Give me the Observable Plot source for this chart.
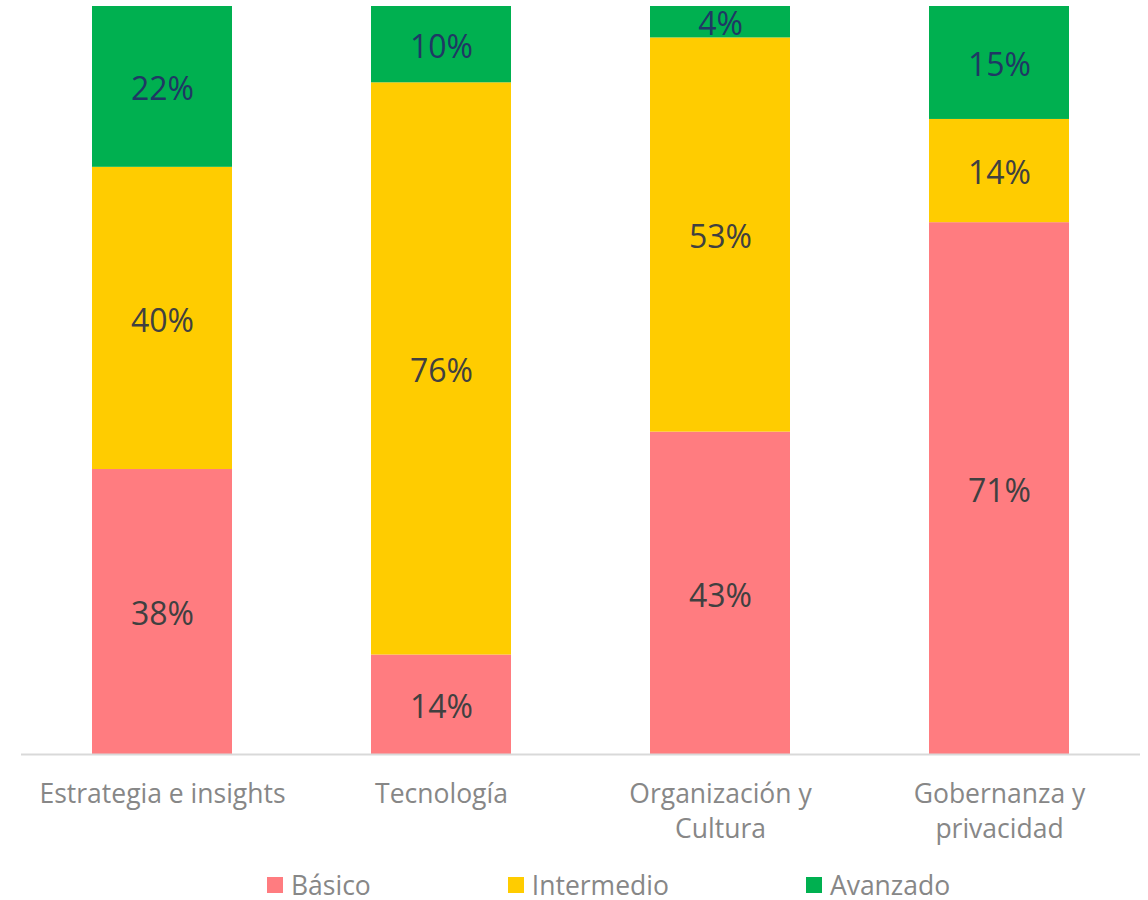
<!DOCTYPE html>
<html>
<head>
<meta charset="utf-8">
<script src="https://cdn.jsdelivr.net/npm/d3@7"></script>
<script src="https://cdn.jsdelivr.net/npm/@observablehq/plot@0.6"></script>
<style>
  html, body { margin: 0; padding: 0; background: #fff; }
  body { width: 1148px; height: 900px; position: relative; overflow: hidden; font-family: "Open Sans", sans-serif; }
  #legend { position: absolute; left: 267px; top: 870px; display: flex; align-items: center; gap: 137px; font-size: 26.5px; color: #878787; line-height: 30px; }
  .item { display: flex; align-items: center; gap: 8px; }
  .sw { width: 16px; height: 16px; display: inline-block; }
</style>
</head>
<body>
<div id="chart"></div>
<div id="legend"></div>
<script>
const categories = ["Estrategia e insights", "Tecnología", "Organización y\nCultura", "Gobernanza y\nprivacidad"];
const levels = ["Básico", "Intermedio", "Avanzado"];
const colors = ["#FF7C80", "#FFCC00", "#00B050"];
const labelColors = ["#404040", "#404040", "#1F3864"];
// segment shares as measured from the bars
const basico = [38.1, 13.3, 43.1, 71.1];
const intermedio = [40.4, 76.5, 52.7, 13.8];
const avanzado = [21.5, 10.2, 4.2, 15.1];
// percentages printed on the segments
const basicoLabels = ["38%", "14%", "43%", "71%"];
const intermedioLabels = ["40%", "76%", "53%", "14%"];
const avanzadoLabels = ["22%", "10%", "4%", "15%"];

const series = [basico, intermedio, avanzado];
const seriesLabels = [basicoLabels, intermedioLabels, avanzadoLabels];
const data = [];
levels.forEach((lvl, li) => {
  categories.forEach((cat, ci) => {
    data.push({cat, level: lvl, value: series[li][ci], label: seriesLabels[li][ci], labelColor: labelColors[li]});
  });
});

const chart = Plot.plot({
  width: 1148,
  height: 860,
  marginTop: 6,
  marginBottom: 106,
  marginLeft: 21,
  marginRight: 8,
  style: {fontFamily: "Open Sans, sans-serif", background: "#fff"},
  x: {domain: categories, paddingInner: 0.5, paddingOuter: 0.25, label: null},
  y: {domain: [0, 100], axis: null},
  color: {domain: levels, range: colors},
  marks: [
    Plot.barY(data, {x: "cat", y: "value", fill: "level", z: "level", order: levels}),
    Plot.ruleY([0], {stroke: "#D9D9D9", strokeWidth: 2}),
    Plot.text(data, Plot.stackY({x: "cat", y: "value", z: "level", order: levels, text: "label", fill: "labelColor", fontSize: 32, dy: 3, fontFamily: "Open Sans, sans-serif"})),
    Plot.axisX({tickSize: 0, tickPadding: 24, fontSize: 26.5, lineHeight: 1.32, color: "#878787", fill: "#878787", label: null})
  ]
});
document.getElementById("chart").appendChild(chart);

const legend = document.getElementById("legend");
levels.forEach((lvl, i) => {
  const it = document.createElement("div");
  it.className = "item";
  const sw = document.createElement("span");
  sw.className = "sw";
  sw.style.background = colors[i];
  const tx = document.createElement("span");
  tx.textContent = lvl;
  it.appendChild(sw);
  it.appendChild(tx);
  legend.appendChild(it);
});
</script>
</body>
</html>
